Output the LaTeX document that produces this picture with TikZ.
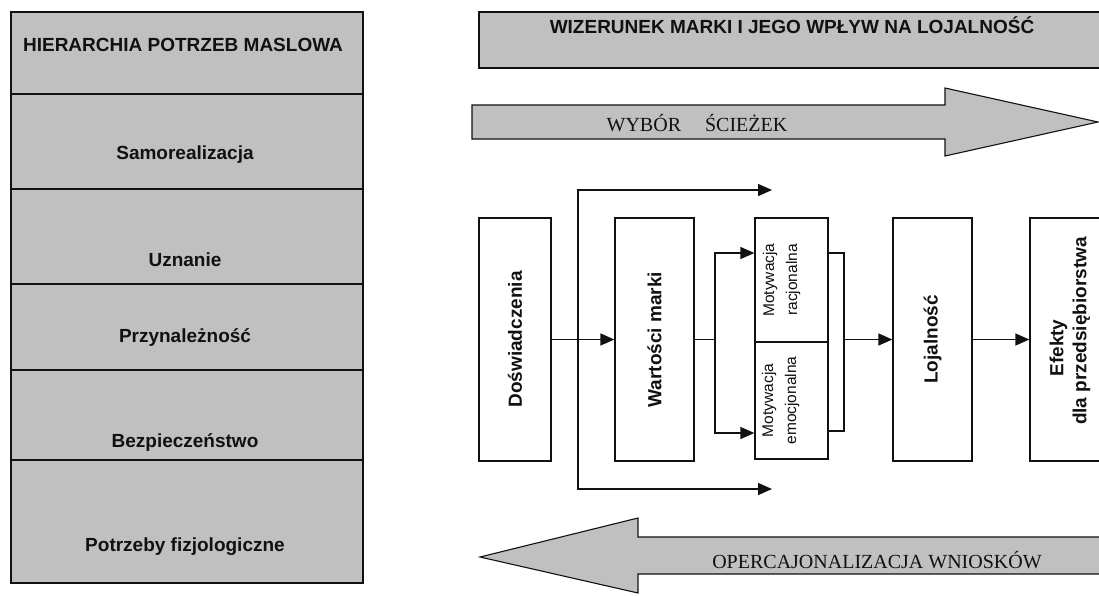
\documentclass[tikz,border=0pt]{standalone}
\usepackage{fontspec}
\setmainfont{Liberation Serif}
\newfontfamily\arialf{Liberation Sans}
\usetikzlibrary{arrows.meta}
\definecolor{panel}{HTML}{C0C0C0}
\definecolor{ink}{HTML}{111111}
\begin{document}
\begin{tikzpicture}[x=1pt,y=-1pt,
  cell/.style={draw=ink, line width=1.2pt, fill=panel},
  flowbox/.style={draw=ink, line width=1.3pt, fill=white, inner sep=0pt},
  bigarrow/.style={draw=ink, line width=1.1pt, fill=panel, line join=miter},
  levellabel/.style={font=\arialf\bfseries\fontsize{19}{22}\selectfont, text=ink},
  boxlabel/.style={rotate=90, font=\arialf\bfseries\fontsize{19}{23}\selectfont, text=ink, align=center},
  motlabel/.style={rotate=90, font=\arialf\fontsize{15.5}{23}\selectfont, text=ink, align=center},
  arrowlabel/.style={font=\fontsize{20}{24}\selectfont, text=ink},
  link/.style={draw=ink, line width=1.4pt},
  tip/.tip={Triangle[length=14pt,width=12pt]},
  arr/.style={link, -tip}]
\useasboundingbox (0,0) rectangle (1099,595);
\clip (0,0) rectangle (1099,595);
\fill[white] (0,0) rectangle (1099,595);

% ---- Maslow column ----
\draw[cell] (11,12) rectangle (363,94);
\draw[cell] (11,94) rectangle (363,189);
\draw[cell] (11,189) rectangle (363,284);
\draw[cell] (11,284) rectangle (363,370);
\draw[cell] (11,370) rectangle (363,460);
\draw[cell] (11,460) rectangle (363,583);
\node[levellabel] (hdr) at (183,45) {HIERARCHIA POTRZEB MASLOWA};
\node[levellabel] (lv5) at (185,155) {Samorealizacja};
\node[levellabel] (lv4) at (185,260) {Uznanie};
\node[levellabel] (lv3) at (185,337) {Przynależność};
\node[levellabel] (lv2) at (185,442) {Bezpieczeństwo};
\node[levellabel] (lv1) at (185,547) {Potrzeby fizjologiczne};

% ---- title bar ----
\draw[cell] (479,12) rectangle (1130,68);
\node[levellabel] (title) at (792,25) {WIZERUNEK MARKI I JEGO WPŁYW NA LOJALNOŚĆ};

% ---- forward arrow ----
\draw[bigarrow] (472,105) -- (945,105) -- (945,88) -- (1098,122) -- (945,156)
  -- (945,139) -- (472,139) -- cycle;
\node[arrowlabel] (fwd) at (697,123) {WYBÓR\hspace*{24pt}ŚCIEŻEK};

% ---- backward arrow ----
\draw[bigarrow] (1130,537) -- (638,537) -- (638,518) -- (480,557) -- (638,593)
  -- (638,574) -- (1130,574) -- cycle;
\node[arrowlabel] (bwd) at (877,560) {OPERCAJONALIZACJA WNIOSKÓW};

% ---- flow boxes ----
\node[flowbox, minimum width=72pt, minimum height=243pt] (d) at (515,339.5) {};
\node[flowbox, minimum width=79pt, minimum height=243pt] (w) at (654.5,339.5) {};
\node[flowbox, minimum width=73pt, minimum height=124pt] (mr) at (791.5,280) {};
\node[flowbox, minimum width=73pt, minimum height=117pt] (me) at (791.5,400.5) {};
\node[flowbox, minimum width=79pt, minimum height=243pt] (l) at (932.5,339.5) {};
\node[flowbox, minimum width=100pt, minimum height=243pt] (e) at (1080,339.5) {};

\node[boxlabel] (dt) at (d) {Doświadczenia};
\node[boxlabel] (wt) at (w) {Wartości marki};
\node[motlabel] (mrt) at ([xshift=-10pt]mr.center) {Motywacja\\racjonalna};
\node[motlabel] (met) at ([xshift=-11pt]me.center) {Motywacja\\emocjonalna};
\node[boxlabel] (lt) at (l) {Lojalność};
\node[boxlabel] (et) at (1070,331) {Efekty\hspace*{34pt}\\dla przedsiębiorstwa};

% ---- connectors ----
\coordinate (bt) at (578,190);
\coordinate (bb) at (578,489);
\coordinate (tt) at (772,190);
\coordinate (tb) at (772,489);
\draw[link, tip-tip] (tt) -- (bt) -- (bb) -- (tb);

\draw[arr] (d.east) -- (w.west);

\coordinate (fork) at (715,339.5);
\draw[link] (w.east) -- (fork);
\draw[arr] (fork) |- ([yshift=27pt]mr.west);
\draw[arr] (fork) |- ([yshift=-32.5pt]me.west);

\coordinate (jt) at (844,253);
\coordinate (jb) at (844,431);
\draw[link] ([yshift=27pt]mr.east) -- (jt) -- (jb) -- ([yshift=-30.5pt]me.east);
\draw[arr] (jt |- l.west) -- (l.west);

\draw[arr] (l.east) -- (e.west);
\end{tikzpicture}
\end{document}
